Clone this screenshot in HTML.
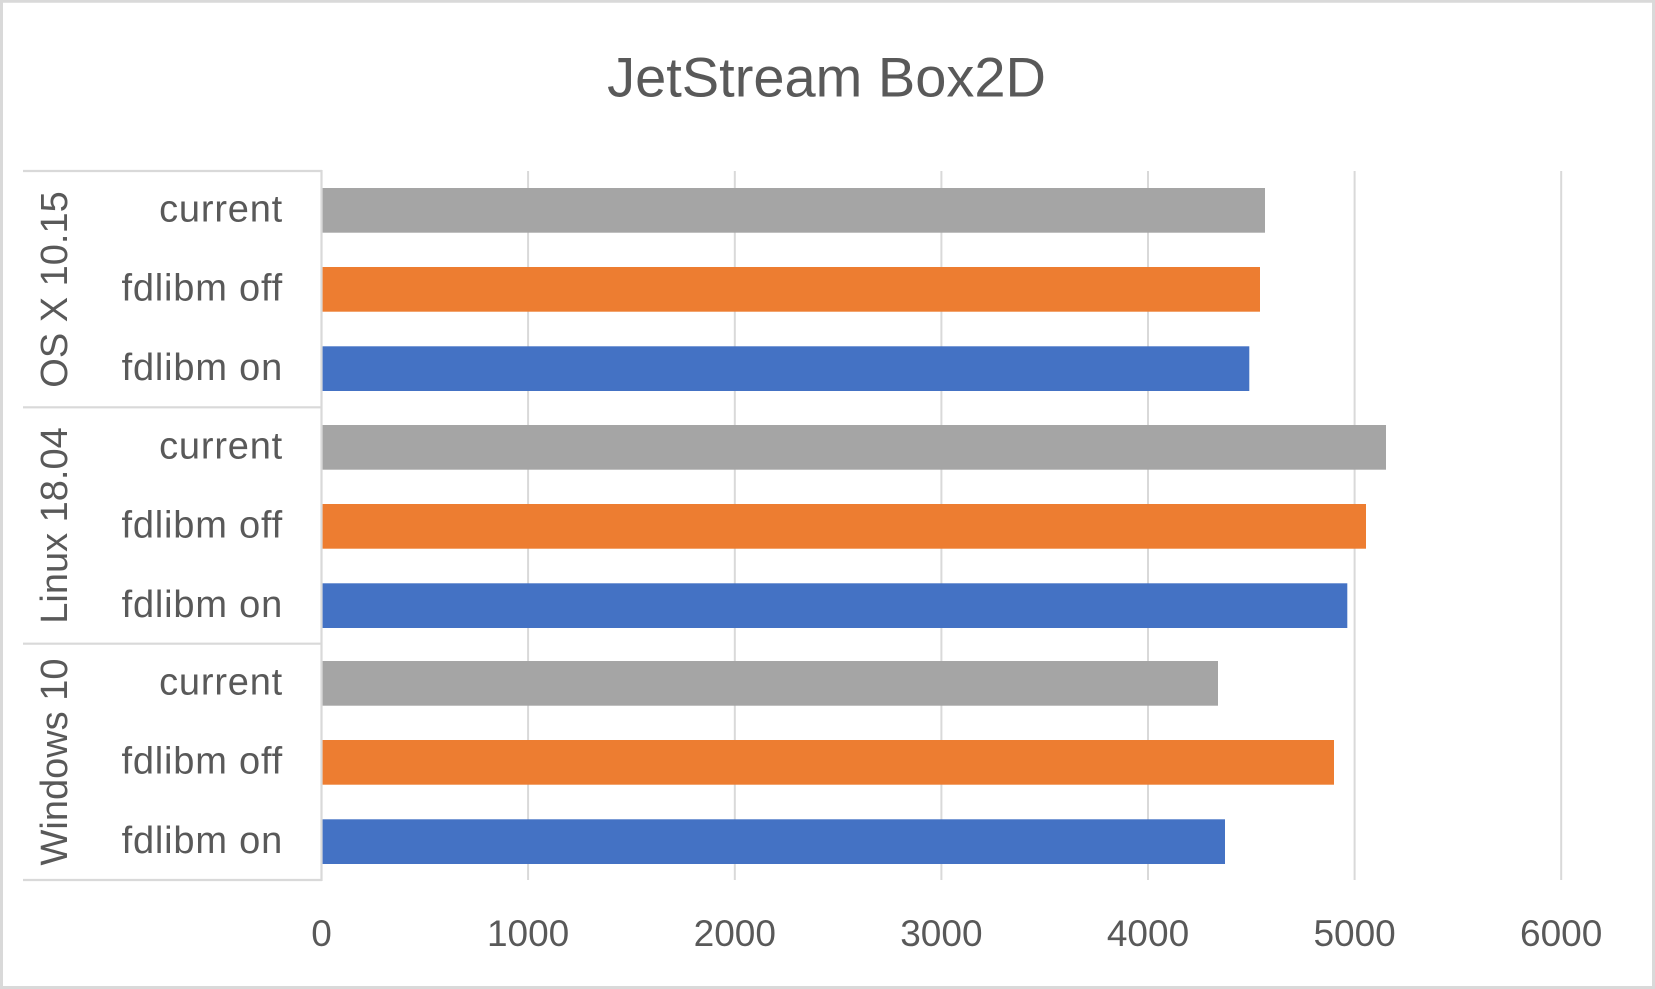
<!DOCTYPE html>
<html>
<head>
<meta charset="utf-8">
<style>
  html, body { margin: 0; padding: 0; background: #fff; }
  body { width: 1655px; height: 989px; overflow: hidden; }
  svg { display: block; }
  text { font-family: "Liberation Sans", sans-serif; fill: #595959; }
</style>
</head>
<body>
<svg width="1655" height="989" viewBox="0 0 1655 989" xmlns="http://www.w3.org/2000/svg">
  <rect x="0" y="0" width="1655" height="989" fill="#ffffff"/>
  <rect x="1.5" y="1.25" width="1652" height="986.25" fill="none" stroke="#d9d9d9" stroke-width="3"/>

  <!-- Title -->
  <text x="826.5" y="96.5" font-size="56" text-anchor="middle">JetStream Box2D</text>

  <!-- gridlines -->
  <g stroke="#d9d9d9" stroke-width="2">
    <line x1="528.1" y1="171" x2="528.1" y2="880"/>
    <line x1="734.8" y1="171" x2="734.8" y2="880"/>
    <line x1="941.4" y1="171" x2="941.4" y2="880"/>
    <line x1="1148.0" y1="171" x2="1148.0" y2="880"/>
    <line x1="1354.6" y1="171" x2="1354.6" y2="880"/>
    <line x1="1561.2" y1="171" x2="1561.2" y2="880"/>
  </g>

  <!-- category axis lines -->
  <g stroke="#d9d9d9" stroke-width="2.2">
    <line x1="321.5" y1="170" x2="321.5" y2="881"/>
    <line x1="23" y1="171" x2="322" y2="171"/>
    <line x1="23" y1="407.3" x2="322" y2="407.3"/>
    <line x1="23" y1="643.7" x2="322" y2="643.7"/>
    <line x1="23" y1="880" x2="322" y2="880"/>
  </g>

  <!-- bars -->
  <g>
    <rect x="322.6" y="188" width="942.4" height="44.7" fill="#a5a5a5"/>
    <rect x="322.6" y="267" width="937.4" height="44.7" fill="#ed7d31"/>
    <rect x="322.6" y="346.3" width="926.7" height="44.7" fill="#4472c4"/>
    <rect x="322.6" y="425" width="1063.4" height="44.7" fill="#a5a5a5"/>
    <rect x="322.6" y="504" width="1043.4" height="44.7" fill="#ed7d31"/>
    <rect x="322.6" y="583.3" width="1024.7" height="44.7" fill="#4472c4"/>
    <rect x="322.6" y="661" width="895.4" height="44.7" fill="#a5a5a5"/>
    <rect x="322.6" y="740" width="1011.4" height="44.7" fill="#ed7d31"/>
    <rect x="322.6" y="819.3" width="902.4" height="44.7" fill="#4472c4"/>
  </g>

  <!-- category labels -->
  <g font-size="38" text-anchor="end" letter-spacing="0.8">
    <text x="283" y="221.7">current</text>
    <text x="283" y="300.5">fdlibm off</text>
    <text x="283" y="379.8">fdlibm on</text>
    <text x="283" y="458.6">current</text>
    <text x="283" y="537.5">fdlibm off</text>
    <text x="283" y="616.8">fdlibm on</text>
    <text x="283" y="694.6">current</text>
    <text x="283" y="773.5">fdlibm off</text>
    <text x="283" y="852.8">fdlibm on</text>
  </g>

  <!-- group labels (rotated) -->
  <g font-size="38" text-anchor="middle">
    <text transform="translate(67,289.5) rotate(-90)">OS X 10.15</text>
    <text transform="translate(67,525.5) rotate(-90)">Linux 18.04</text>
    <text transform="translate(67,762) rotate(-90)">Windows 10</text>
  </g>

  <!-- value axis labels -->
  <g font-size="37" text-anchor="middle">
    <text x="321.5" y="946">0</text>
    <text x="528.1" y="946">1000</text>
    <text x="734.8" y="946">2000</text>
    <text x="941.4" y="946">3000</text>
    <text x="1148.0" y="946">4000</text>
    <text x="1354.6" y="946">5000</text>
    <text x="1561.2" y="946">6000</text>
  </g>
</svg>
</body>
</html>
